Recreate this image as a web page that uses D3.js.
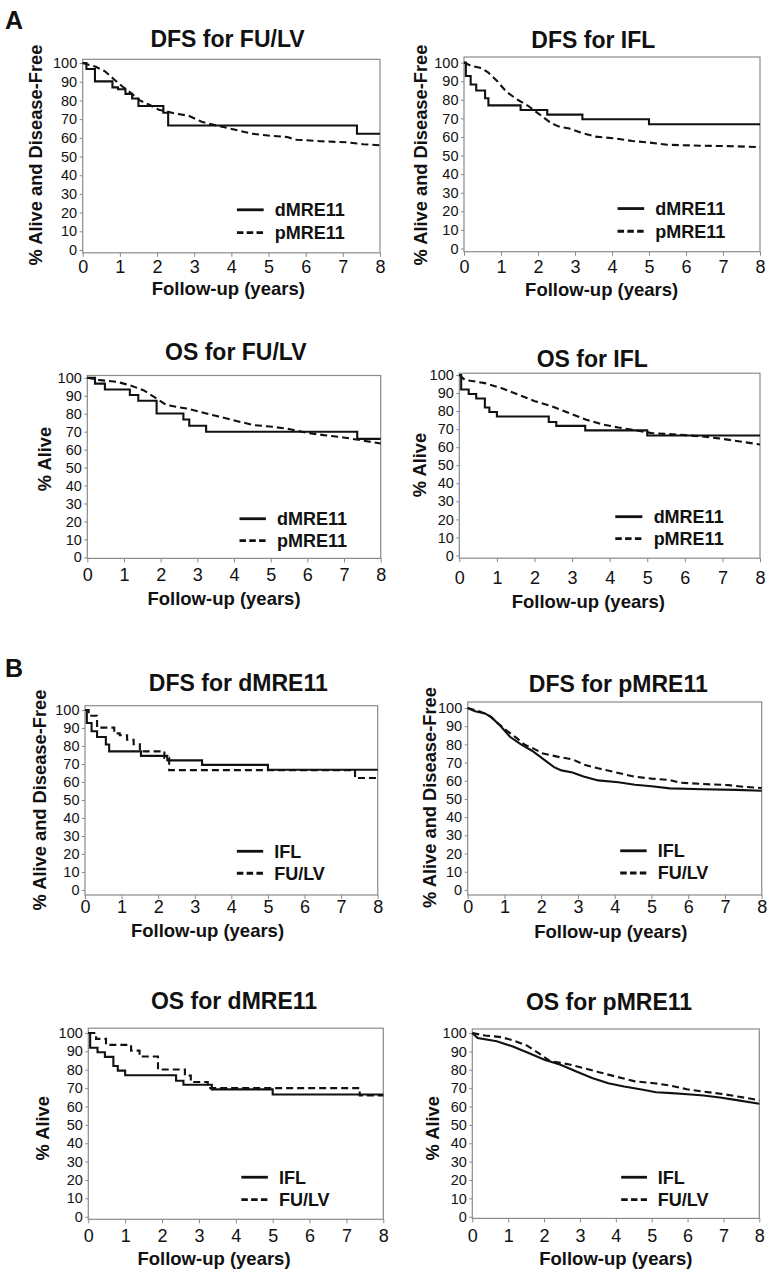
<!DOCTYPE html>
<html><head><meta charset="utf-8">
<script src="https://cdn.jsdelivr.net/npm/d3@7"></script>
<style>
body{margin:0;background:#fff}
svg{display:block}
text{font-family:"Liberation Sans",Arial,Helvetica,sans-serif;fill:#111}
</style>
</head><body>
<svg id="c" width="775" height="1273"></svg>
<script>
// ---------- data ----------
const years = [0,1,2,3,4,5,6,7,8];
const pctTicks = [0,10,20,30,40,50,60,70,80,90,100];

// DFS, FU/LV arm, dMRE11 (Kaplan-Meier steps)
const dfsFuD = [[0,100],[0.1,96.8],[0.33,90.2],[0.8,87],[0.95,86],[1.15,83.5],[1.33,81],[1.5,77],[2.17,73.4],[2.3,66.6],[7.38,62.2],[8,62.2]];
// DFS, FU/LV arm, pMRE11
const dfsFuP = [[0,100],[0.35,98],[0.6,95.6],[0.83,91.5],[1.06,87.6],[1.3,84],[1.54,80],[1.78,77.8],[2.05,75],[2.5,73],[2.85,71.8],[3.2,68.6],[3.6,66.6],[3.95,65],[4.55,62.2],[5.0,61.2],[5.5,60.4],[5.75,59],[6.4,58.2],[7.1,57.6],[7.55,56.6],[8,56]];
// DFS, IFL arm, dMRE11
const dfsIflD = [[0,100],[0.05,92.8],[0.18,88.2],[0.33,85],[0.57,80.8],[0.66,77],[1.53,74.5],[2.25,72],[3.2,69.5],[5.0,66.8],[8,66.8]];
// DFS, IFL arm, pMRE11
const dfsIflP = [[0,100],[0.2,98.2],[0.47,97],[0.65,94.8],[0.9,90],[1.15,84.2],[1.45,80],[1.75,76.5],[2.05,72],[2.35,67.5],[2.55,65.7],[2.85,64.5],[3.15,62.4],[3.55,60.2],[4.1,59.2],[4.55,57.8],[5.0,57],[5.5,55.8],[6.4,55.3],[7.3,55],[8,54.5]];
// OS, FU/LV arm, dMRE11
const osFuD = [[0,100],[0.21,96.8],[0.48,93.5],[1.16,90.4],[1.39,87.2],[1.89,80.1],[2.62,76.8],[2.78,73.3],[3.24,70],[7.36,66],[8,66]];
// OS, FU/LV arm, pMRE11
const osFuP = [[0,100],[0.35,98.7],[0.8,97.8],[1.16,95.9],[1.53,93.1],[1.89,88.5],[2.16,84.8],[2.71,82.9],[3.07,81.1],[3.53,78.7],[3.98,76.4],[4.53,73.7],[5.07,72.7],[5.53,71.4],[5.98,69.4],[6.44,68.1],[6.98,66.8],[7.44,65.3],[8,63.4]];
// OS, IFL arm, dMRE11
const osIflD = [[0,100],[0.05,92],[0.25,89.5],[0.45,87],[0.68,82],[0.8,79.5],[1.0,77],[2.38,74],[2.58,71.8],[3.35,69.3],[5.0,66.5],[8,66.5]];
// OS, IFL arm, pMRE11
const osIflP = [[0,100],[0.15,97.3],[0.68,95.5],[1.13,92.7],[1.57,89.1],[2.01,85.5],[2.46,82.7],[2.9,79.1],[3.34,75.5],[3.79,72.7],[4.23,70.9],[4.76,69.1],[5.12,67.8],[5.56,67.3],[6,66.7],[6.45,66],[6.9,64.9],[7.33,63.6],[8,61.5]];

const stepped = new Set([dfsFuD, dfsIflD, osFuD, osIflD]);

const panels = [
  {title:"DFS for FU/LV",  yTitle:"% Alive and Disease-Free", names:["dMRE11","pMRE11"], solid:dfsFuD,  dashed:dfsFuP},
  {title:"DFS for IFL",    yTitle:"% Alive and Disease-Free", names:["dMRE11","pMRE11"], solid:dfsIflD, dashed:dfsIflP},
  {title:"OS for FU/LV",   yTitle:"% Alive",                  names:["dMRE11","pMRE11"], solid:osFuD,   dashed:osFuP},
  {title:"OS for IFL",     yTitle:"% Alive",                  names:["dMRE11","pMRE11"], solid:osIflD,  dashed:osIflP},
  {title:"DFS for dMRE11", yTitle:"% Alive and Disease-Free", names:["IFL","FU/LV"],     solid:dfsIflD, dashed:dfsFuD},
  {title:"DFS for pMRE11", yTitle:"% Alive and Disease-Free", names:["IFL","FU/LV"],     solid:dfsIflP, dashed:dfsFuP},
  {title:"OS for dMRE11",  yTitle:"% Alive",                  names:["IFL","FU/LV"],     solid:osIflD,  dashed:osFuD},
  {title:"OS for pMRE11",  yTitle:"% Alive",                  names:["IFL","FU/LV"],     solid:osIflP,  dashed:osFuP}
];

// ---------- layout ----------
const layout = [
  {l:82.7, r:380,   t:59.3,   b:252.8,  lo:-1.5, hi:102,   tx:227.5, ty:47.3,   yx:41.5,  yy:155,    xt:272.7,  xx:228.3, xy:295},
  {l:464,  r:760,   t:57,     b:251.7,  lo:-1.7, hi:103,   tx:593.3, ty:47.7,   yx:426.5, yy:155,    xt:273.3,  xx:601.7, xy:296},
  {l:87.3, r:380.7, t:375.5,  b:558.4,  lo:-0.6, hi:101.3, tx:235.8, ty:360,    yx:51.3,  yy:459,    xt:580.7,  xx:224,   xy:605},
  {l:459.3,r:760,   t:373.2,  b:558.2,  lo:-1.5, hi:101,   tx:592.3, ty:366.7,  yx:426,   yy:465,    xt:584,    xx:588.3, xy:608},
  {l:85,   r:377.7, t:705.7,  b:895,    lo:-2.8, hi:102.4, tx:238.3, ty:691,    yx:46,    yy:800,    xt:912.7,  xx:207.5, xy:936.7},
  {l:467.7,r:761.7, t:702,    b:895,    lo:-2.8, hi:103.3, tx:618.3, ty:691.7,  yx:435.7, yy:797.5,  xt:913.3,  xx:610.8, xy:937.7},
  {l:88.3, r:383.3, t:1028.2, b:1219.3, lo:-1.4, hi:102.6, tx:234,   ty:1009.3, yx:49.3,  yy:1128.3, xt:1241.7, xx:214,   xy:1265},
  {l:472.3,r:759.3, t:1029,   b:1218.4, lo:-0.9, hi:102.2, tx:609,   ty:1010,   yx:439.3, yy:1128.3, xt:1241.7, xx:615.8, xy:1265}
];

const svg = d3.select("#c");
svg.append("rect").attr("width",775).attr("height",1273).attr("fill","#fff");

svg.append("text").attr("x",5).attr("y",28.5).attr("font-size",25).attr("font-weight","bold").text("A");
svg.append("text").attr("x",5).attr("y",676.5).attr("font-size",25).attr("font-weight","bold").text("B");

panels.forEach((p,i)=>{
  const L = layout[i];
  const x = d3.scaleLinear().domain([0,8]).range([L.l,L.r]);
  const y = d3.scaleLinear().domain([L.lo,L.hi]).range([L.b,L.t]);
  const g = svg.append("g");

  // title
  g.append("text").attr("x",L.tx).attr("y",L.ty).attr("text-anchor","middle")
    .attr("font-size",23).attr("font-weight","bold").text(p.title);

  // y axis
  const ya = g.append("g").attr("transform",`translate(${L.l},0)`)
    .call(d3.axisLeft(y).tickValues(pctTicks).tickSize(3).tickPadding(2.5));
  ya.select(".domain").remove();
  ya.selectAll("line").attr("stroke","#888");
  ya.selectAll("text").attr("font-size",14.5).attr("fill","#1a1a1a").style("font-family",'"Liberation Sans",Arial,sans-serif');

  // x axis
  const pad = (L.xt - L.b) - 4 - 0.71*18;
  const xa = g.append("g").attr("transform",`translate(0,${L.b})`)
    .call(d3.axisBottom(x).tickValues(years).tickSize(4).tickPadding(pad));
  xa.select(".domain").remove();
  xa.selectAll("line").attr("stroke","#888");
  xa.selectAll("text").attr("font-size",18).attr("fill","#1a1a1a").style("font-family",'"Liberation Sans",Arial,sans-serif');

  // plot frame
  g.append("rect").attr("x",x(0)).attr("y",y(L.hi)).attr("width",x(8)-x(0)).attr("height",y(L.lo)-y(L.hi))
    .attr("fill","none").attr("stroke","#8a8a8a").attr("stroke-width",1.2);

  // axis titles
  g.append("text").attr("x",L.xx).attr("y",L.xy).attr("text-anchor","middle")
    .attr("font-size",18.5).attr("font-weight","bold").text("Follow-up (years)");
  g.append("text").attr("transform",`translate(${L.yx},${L.yy}) rotate(-90)`).attr("text-anchor","middle")
    .attr("font-size",18.3).attr("font-weight","bold").text(p.yTitle);

  // curves
  const mk = data => d3.line().x(d=>x(d[0])).y(d=>y(d[1]))
    .curve(stepped.has(data) ? d3.curveStepAfter : d3.curveLinear)(data);
  g.append("path").attr("d",mk(p.solid)).attr("fill","none").attr("stroke","#111").attr("stroke-width",2.1);
  g.append("path").attr("d",mk(p.dashed)).attr("fill","none").attr("stroke","#111").attr("stroke-width",2.1)
    .attr("stroke-dasharray","7,4");

  // legend
  const rows = [[21.5,false],[9.3,true]];
  rows.forEach((r,k)=>{
    g.append("line").attr("x1",x(4.15)).attr("x2",x(4.87)).attr("y1",y(r[0])).attr("y2",y(r[0]))
      .attr("stroke","#111").attr("stroke-width",2.8).attr("stroke-dasharray", r[1] ? "6.5,3.3" : null);
    g.append("text").attr("x",x(5.17)).attr("y",y(r[0])).attr("dy","0.36em")
      .attr("font-size",18).attr("font-weight","bold").text(p.names[k]);
  });
});
</script>
</body></html>
